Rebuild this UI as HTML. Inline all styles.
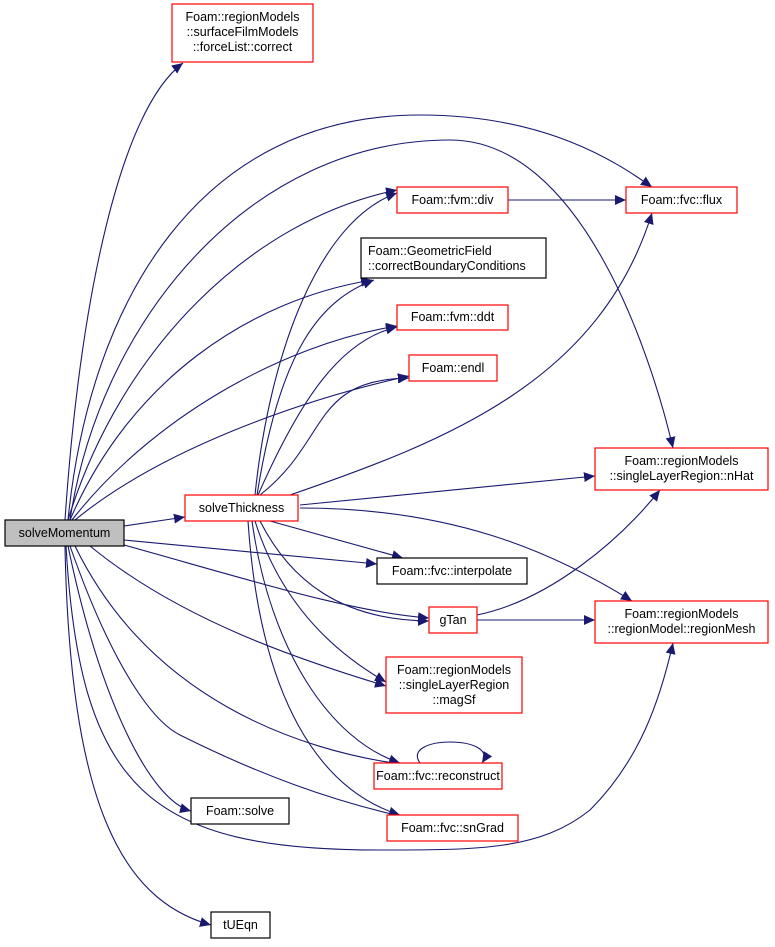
<!DOCTYPE html>
<html><head><meta charset="utf-8"><style>
body{margin:0;background:#fff}
svg{display:block}
text{font-family:"Liberation Sans",Arial,sans-serif;font-size:12.5px;fill:#000}
</style></head><body>
<svg width="775" height="947" viewBox="0 0 775 947" xmlns="http://www.w3.org/2000/svg">
<defs>
<marker id="a" markerUnits="userSpaceOnUse" markerWidth="12" markerHeight="10" refX="11" refY="5" orient="auto">
<path d="M0,0 L11,5 L0,10 Z" fill="#191970"/>
</marker>
</defs>
<g fill="none" stroke="#191970" stroke-width="1.1" marker-end="url(#a)">
<path d="M65,520 C80,300 120,110 183,63"/>
<path d="M68,520 C90,300 200,115 420,115 C550,115 620,165 652,187"/>
<path d="M70,520 C100,320 250,140 450,140 C580,140 650,350 673,448"/>
<path d="M68,520 C120,350 250,220 397,190"/>
<path d="M70,520 C130,380 250,300 372,280"/>
<path d="M72,520 C150,420 280,345 397,326"/>
<path d="M75,520 C160,450 300,400 409,376"/>
<path d="M124,526 L185,517"/>
<path d="M124,540 L377,564"/>
<path d="M124,545 C250,580 350,612 429,618"/>
<path d="M90,546 C180,620 300,660 386,686"/>
<path d="M75,546 C150,700 300,750 400,764"/>
<path d="M70,546 C110,660 150,720 180,735 C260,775 330,800 400,816"/>
<path d="M68,546 C100,700 150,800 191,811"/>
<path d="M66,546 C80,790 150,850 380,850 C480,850 540,850 590,810 C640,760 660,700 673,643"/>
<path d="M65,546 C70,800 120,900 211,925"/>
<path d="M255,495 C270,350 320,220 397,193"/>
<path d="M257,495 C280,350 320,300 374,280"/>
<path d="M258,495 C300,400 340,340 397,327"/>
<path d="M260,495 C330,440 310,380 409,378"/>
<path d="M290,495 C450,440 600,380 652,213"/>
<path d="M300,505 L595,476"/>
<path d="M300,508 C450,508 550,550 632,601"/>
<path d="M270,521 L403,558"/>
<path d="M260,521 C290,580 340,620 429,621"/>
<path d="M255,521 C280,600 330,650 386,682"/>
<path d="M252,521 C270,650 330,740 400,763"/>
<path d="M248,521 C260,700 320,790 400,815"/>
<path d="M477,615 C550,600 620,540 660,490"/>
<path d="M477,620 L595,620"/>
<path d="M508,200 L626,200"/>
<path d="M420,763 C400,735 500,735 482,763"/>
</g>
<g stroke-width="1.2" fill="#fff">
<rect x="5" y="520" width="119" height="26" fill="#bfbfbf" stroke="#000"/>
<rect x="172" y="4" width="141" height="58" stroke="#f00"/>
<rect x="397" y="187" width="111" height="26" stroke="#f00"/>
<rect x="361" y="238" width="185" height="40" stroke="#000"/>
<rect x="397" y="305" width="111" height="25" stroke="#f00"/>
<rect x="409" y="355" width="88" height="26" stroke="#f00"/>
<rect x="626" y="187" width="111" height="26" stroke="#f00"/>
<rect x="185" y="495" width="113" height="26" stroke="#f00"/>
<rect x="595" y="448" width="173" height="42" stroke="#f00"/>
<rect x="377" y="558" width="150" height="26" stroke="#000"/>
<rect x="429" y="607" width="48" height="26" stroke="#f00"/>
<rect x="595" y="601" width="173" height="42" stroke="#f00"/>
<rect x="386" y="657" width="136" height="56" stroke="#f00"/>
<rect x="374" y="763" width="128" height="26" stroke="#f00"/>
<rect x="191" y="798" width="98" height="26" stroke="#000"/>
<rect x="387" y="815" width="131" height="26" stroke="#f00"/>
<rect x="211" y="912" width="59" height="26" stroke="#000"/>
</g>
<g text-anchor="middle">
<text x="64.5" y="537">solveMomentum</text>
<text x="242.5" y="21">Foam::regionModels</text>
<text x="242.5" y="36">::surfaceFilmModels</text>
<text x="242.5" y="51">::forceList::correct</text>
<text x="452.5" y="204">Foam::fvm::div</text>
<text x="681.5" y="204">Foam::fvc::flux</text>
<text x="452.5" y="321">Foam::fvm::ddt</text>
<text x="453" y="372">Foam::endl</text>
<text x="241.5" y="512">solveThickness</text>
<text x="681.5" y="465">Foam::regionModels</text>
<text x="681.5" y="480">::singleLayerRegion::nHat</text>
<text x="452" y="575">Foam::fvc::interpolate</text>
<text x="453" y="624">gTan</text>
<text x="681.5" y="618">Foam::regionModels</text>
<text x="681.5" y="633">::regionModel::regionMesh</text>
<text x="454" y="674">Foam::regionModels</text>
<text x="454" y="689">::singleLayerRegion</text>
<text x="454" y="704">::magSf</text>
<text x="438" y="780">Foam::fvc::reconstruct</text>
<text x="240" y="815">Foam::solve</text>
<text x="452.5" y="832">Foam::fvc::snGrad</text>
<text x="240.5" y="929">tUEqn</text>
</g>
<text x="368" y="255">Foam::GeometricField</text>
<text x="368" y="270">::correctBoundaryConditions</text>
</svg>
</body></html>
